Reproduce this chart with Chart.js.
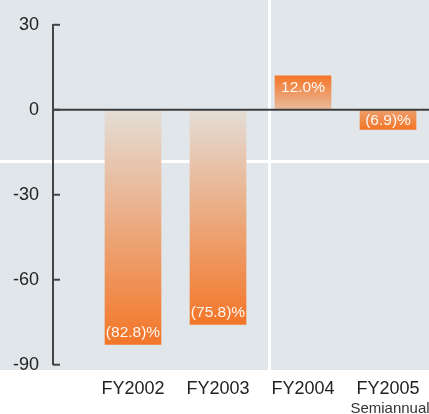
<!DOCTYPE html>
<html>
<head>
<meta charset="utf-8">
<script src="https://cdn.jsdelivr.net/npm/chart.js@4.4.1/dist/chart.umd.min.js"></script>
<style>
  html, body { margin: 0; padding: 0; background: #ffffff; }
  #wrap { width: 429px; height: 414px; }
</style>
</head>
<body>
<div id="wrap"><canvas id="returnChart" width="429" height="414"></canvas></div>
<script>
const categories = ["FY2002", "FY2003", "FY2004", "FY2005"];
const subLabels = ["", "", "", "Semiannual"];
const values = [-82.8, -75.8, 12.0, -6.9];
const yTicks = [30, 0, -30, -60, -90];

const FONT = "'Liberation Sans', Arial, Helvetica, sans-serif";
const panelGray = "#e0e6e9";
const barLight = "#e4ddd6";
const barOrange = "#f37628";

function fmtLabel(v) {
  const s = Math.abs(v).toFixed(1);
  return v < 0 ? "(" + s + ")%" : s + "%";
}

function barGradient(context) {
  const chart = context.chart;
  if (!chart.chartArea) return barOrange;
  const v = values[context.dataIndex];
  const y = chart.scales.y;
  const y0 = y.getPixelForValue(0);
  const y1 = y.getPixelForValue(v);
  const dir = y1 > y0 ? 1 : -1;
  const len = Math.max(Math.abs(y1 - y0), 50);
  const g = chart.ctx.createLinearGradient(0, y1 - dir * len, 0, y1);
  g.addColorStop(0, barLight);
  g.addColorStop(1, barOrange);
  return g;
}

// panel background with the white separators
const panelPlugin = {
  id: "panel",
  beforeDraw(chart) {
    const c = chart.ctx;
    c.save();
    c.fillStyle = panelGray;
    c.fillRect(0, 0, chart.width, 370);
    c.fillStyle = "#ffffff";
    c.fillRect(268, 0, 3, 370);
    c.fillRect(0, 160, chart.width, 3);
    c.restore();
  },
  afterDatasetsDraw(chart) {
    const c = chart.ctx;
    const area = chart.chartArea;
    const xs = chart.scales.x;
    const ys = chart.scales.y;
    c.save();

    // zero line
    const yZero = ys.getPixelForValue(0);
    c.strokeStyle = "#3c3c3c";
    c.lineWidth = 2;
    c.beginPath();
    c.moveTo(area.left, yZero);
    c.lineTo(area.right, yZero);
    c.stroke();

    // inward tick marks
    c.strokeStyle = "#444444";
    yTicks.forEach(t => {
      const py = ys.getPixelForValue(t);
      c.beginPath();
      c.moveTo(area.left, py);
      c.lineTo(area.left + 7, py);
      c.stroke();
    });

    // value labels inside bars
    c.fillStyle = "rgba(255,255,255,0.93)";
    c.font = "15.5px " + FONT;
    c.textAlign = "center";
    c.textBaseline = "middle";
    values.forEach((v, i) => {
      const px = xs.getPixelForValue(i);
      const py = ys.getPixelForValue(v);
      const len = Math.abs(py - yZero);
      const off = Math.min(12, len * 0.42);
      c.fillText(fmtLabel(v), px, v < 0 ? py - off : py + off);
    });

    // category labels
    c.fillStyle = "#222222";
    categories.forEach((lab, i) => {
      const px = xs.getPixelForValue(i);
      c.font = "18px " + FONT;
      c.fillText(lab, px, 389);
      if (subLabels[i]) {
        c.fillStyle = "#333333";
        c.font = "15px " + FONT;
        c.fillText(subLabels[i], px + 2, 409);
        c.fillStyle = "#222222";
      }
    });
    c.restore();
  }
};

new Chart(document.getElementById("returnChart"), {
  type: "bar",
  data: {
    datasets: [{
      data: values.map((v, i) => ({ x: i, y: v })),
      backgroundColor: barGradient,
      borderWidth: 0,
      barThickness: 56
    }]
  },
  options: {
    responsive: false,
    animation: false,
    layout: { padding: { top: 24.7, bottom: 49.3, left: 0, right: 0 } },
    plugins: { legend: { display: false }, tooltip: { enabled: false } },
    scales: {
      x: {
        type: "linear",
        display: false,
        offset: false,
        min: -0.941,
        max: 3.482
      },
      y: {
        min: -90,
        max: 30,
        afterFit(scale) { scale.width = 53; },
        grid: { display: false, drawTicks: false },
        border: { display: true, color: "#444444", width: 2 },
        ticks: {
          stepSize: 30,
          padding: 14,
          color: "#222222",
          font: { family: FONT, size: 18 }
        }
      }
    }
  },
  plugins: [panelPlugin]
});
</script>
</body>
</html>
